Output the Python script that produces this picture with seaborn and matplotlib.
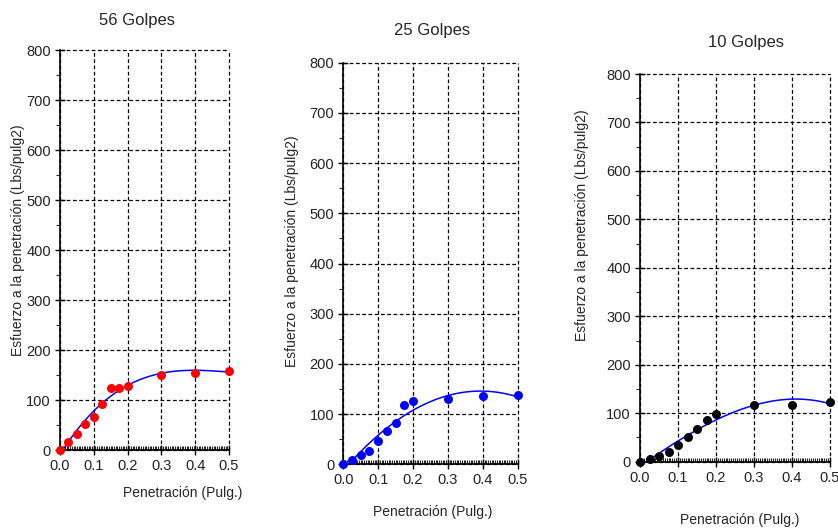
import numpy as np
import pandas as pd
import matplotlib
matplotlib.use("Agg")
import matplotlib.pyplot as plt
from matplotlib.ticker import MultipleLocator, FormatStrFormatter
import seaborn as sns

sns.set_style("white")
plt.rcParams['font.family'] = ['Liberation Sans', 'DejaVu Sans']

penetracion = [0.0, 0.025, 0.05, 0.075, 0.1, 0.125, 0.15, 0.175, 0.2, 0.3, 0.4, 0.5]
esfuerzo_56 = [0, 17, 32, 52, 67, 93, 125, 125, 129, 151, 155, 158]
esfuerzo_25 = [0, 9, 19, 27, 47, 67, 82, 118, 126, 130, 136, 139]
esfuerzo_10 = [0, 5, 12, 21, 34, 50, 67, 87, 98, 117, 118, 124]
titles = ["56 Golpes", "25 Golpes", "10 Golpes"]
point_colors = ["red", "blue", "black"]
x_ticks = [0.0, 0.1, 0.2, 0.3, 0.4, 0.5]
y_ticks = [0, 100, 200, 300, 400, 500, 600, 700, 800]

W, H = 838, 529
fig = plt.figure(figsize=(W / 100, H / 100), dpi=100)

# pixel boxes: left, right, top, bottom
boxes = [(60, 229, 50, 450), (343.3, 517.7, 62.7, 464.3), (640, 830, 74, 461.7)]
title_pos = [(137, 20), (432, 30), (746, 42)]
xlabel_pos = [(183, 493), (433, 512), (740, 520)]
ylabel_pos = [(18, 240), (292, 251), (582, 225)]

series = [esfuerzo_56, esfuerzo_25, esfuerzo_10]
for i in range(3):
    l, r, t, b = boxes[i]
    ax = fig.add_axes([l / W, 1 - b / H, (r - l) / W, (b - t) / H])
    df = pd.DataFrame({"x": penetracion, "y": series[i]})
    sns.regplot(data=df, x="x", y="y", order=3, ci=None, ax=ax,
                scatter_kws=dict(color=point_colors[i], s=42, zorder=4, linewidths=0,
                                 alpha=1, clip_on=False),
                line_kws=dict(color="blue", lw=1.1, zorder=3))
    ax.set_xlim(0, 0.5)
    ax.set_ylim(0, 800)
    ax.set_xticks(x_ticks)
    ax.set_yticks(y_ticks)
    ax.xaxis.set_major_formatter(FormatStrFormatter("%.1f"))
    ax.xaxis.set_minor_locator(MultipleLocator(0.005))
    ax.yaxis.set_minor_locator(MultipleLocator(50))
    ax.grid(True, which="major", color="black", ls=(0, (3, 2)), lw=0.9)
    ax.set_axisbelow(True)
    for gl in ax.get_xgridlines() + ax.get_ygridlines():
        gl.set_clip_on(False)
    for s in ["top", "right"]:
        ax.spines[s].set_visible(False)
    for s in ["left", "bottom"]:
        ax.spines[s].set_color("black")
        ax.spines[s].set_linewidth(1.2)
    ax.tick_params(axis="both", which="major", direction="inout", length=7, width=1,
                   labelsize=10.5, colors="black", left=True, bottom=True, pad=3)
    ax.tick_params(axis="x", which="minor", direction="in", length=3, width=0.8, bottom=True)
    ax.tick_params(axis="y", which="minor", direction="out", length=3, width=0.8, left=True)
    ax.set_xlabel("")
    ax.set_ylabel("")
    for lab in ax.get_xticklabels() + ax.get_yticklabels():
        lab.set_color("#222222")
    tx, ty = title_pos[i]
    fig.text(tx / W, 1 - ty / H, titles[i], ha="center", va="center", fontsize=12)
    xx, xy = xlabel_pos[i]
    fig.text(xx / W, 1 - xy / H, "Penetración (Pulg.)", ha="center", va="center", fontsize=10)
    yx, yy = ylabel_pos[i]
    fig.text(yx / W, 1 - yy / H, "Esfuerzo a la penetración (Lbs/pulg2)", ha="center",
             va="center", rotation=90, fontsize=10)

fig.savefig("out.png", dpi=100, facecolor="white")
